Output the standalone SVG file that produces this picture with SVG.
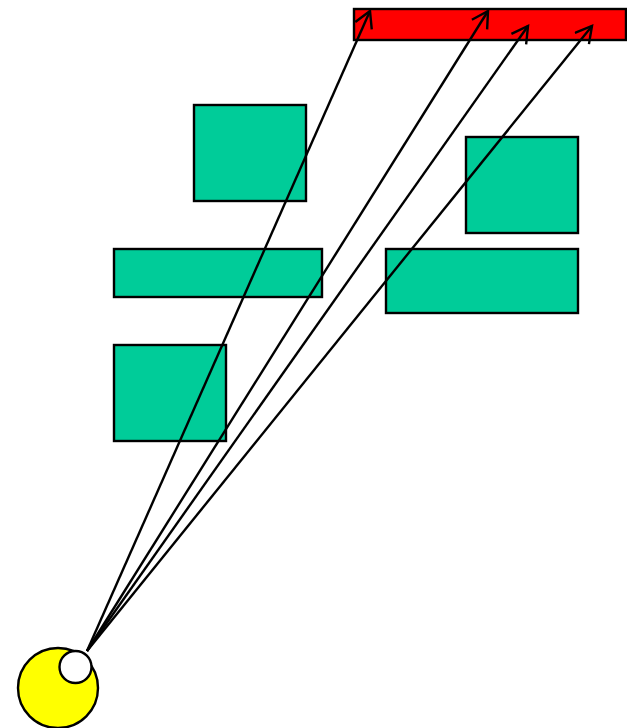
<svg xmlns="http://www.w3.org/2000/svg" width="627" height="728" viewBox="0 0 627 728">
<style>
.g{fill:#00cc99;stroke:#000;stroke-width:2.4}
.r{fill:#ff0000;stroke:#000;stroke-width:2.4}
.c{stroke:#000;stroke-width:2.4;fill:none;marker-end:url(#a)}
</style>
<defs>
<marker id="a" markerWidth="20" markerHeight="22" refX="17" refY="10" orient="auto" markerUnits="userSpaceOnUse">
<path d="M1,1 L17,10 L1,19" fill="none" stroke="#000" stroke-width="2.4"/>
</marker>
</defs>
<g id="target"><rect class="r" x="354" y="9" width="272" height="31"/></g>
<g id="n1"><rect class="g" x="194" y="105" width="112" height="96"/></g>
<g id="n2"><rect class="g" x="114" y="249" width="208" height="48"/></g>
<g id="n3"><rect class="g" x="114" y="345" width="112" height="96"/></g>
<g id="n4"><rect class="g" x="466" y="137" width="112" height="96"/></g>
<g id="n5"><rect class="g" x="386" y="249" width="192" height="64"/></g>
<g id="connectors">
<line class="c" x1="87" y1="651" x2="370" y2="11"/>
<line class="c" x1="87" y1="651" x2="488" y2="11"/>
<line class="c" x1="87" y1="651" x2="528" y2="26"/>
<line class="c" x1="87" y1="651" x2="592" y2="26"/>
</g>
<g id="source">
<circle cx="58" cy="688" r="40" fill="#ffff00" stroke="#000" stroke-width="2.4"/>
<circle cx="75.5" cy="667" r="16" fill="#fff" stroke="#000" stroke-width="2.4"/>
</g>
</svg>
